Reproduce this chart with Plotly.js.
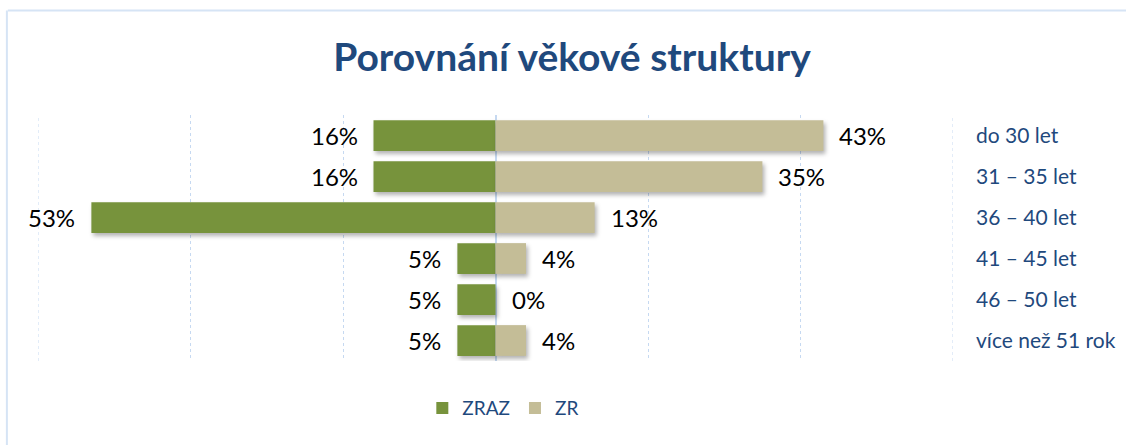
<!DOCTYPE html>
<html>
<head>
<meta charset="utf-8">
<script src="https://cdn.plot.ly/plotly-3.0.1.min.js"></script>
<style>
  body { margin: 0; background: #fff; }
  #chart { width: 1126px; height: 445px; }
  .barlayer .point path { filter: drop-shadow(2px 3px 2px rgba(0,0,0,0.30)); }
</style>
</head>
<body>
<div id="chart"></div>
<script>
const categories = ["do 30 let", "31 – 35 let", "36 – 40 let", "41 – 45 let", "46 – 50 let", "více než 51 rok"];
const zraz = [16, 16, 53, 5, 5, 5];
const zr = [43, 35, 13, 4, 0, 4];
const seriesNames = ["ZRAZ", "ZR"];
const xTicks = [-60, -40, -20, 0, 20, 40, 60];

const green = "#77933C";
const tan = "#C4BD97";
const blue = "#1F497D";
const gridBlue = "#C6D9F1";
const font = "Lato, 'Open Sans', sans-serif";

const traces = [
  {
    type: "bar", orientation: "h", name: seriesNames[0],
    y: categories, x: zraz.map(v => -v),
    marker: { color: green }, width: 0.75, hoverinfo: "skip"
  },
  {
    type: "bar", orientation: "h", name: seriesNames[1],
    y: categories, x: zr,
    marker: { color: tan }, width: 0.75, hoverinfo: "skip"
  }
];

const annotations = [];
categories.forEach((c, i) => {
  annotations.push({
    x: -zraz[i], y: c, xref: "x", yref: "y", text: zraz[i] + "%",
    showarrow: false, xanchor: "right", xshift: -14,
    font: { family: font, size: 24, color: "#000" }
  });
  annotations.push({
    x: zr[i], y: c, xref: "x", yref: "y", text: zr[i] + "%",
    showarrow: false, xanchor: "left", xshift: 14,
    font: { family: font, size: 24, color: "#000" }
  });
});

// edge gridlines (at the first and last tick value, which coincide with the range ends)
const edgeGrid = [xTicks[0], xTicks[xTicks.length - 1]].map(v => ({
  type: "line", xref: "x", yref: "paper", x0: v, x1: v, y0: 0, y1: 1,
  line: { color: gridBlue, width: 1, dash: "dot" }, layer: "below"
}));

const layout = {
  width: 1126, height: 445,
  margin: { l: 38, r: 173, t: 115, b: 84 },
  paper_bgcolor: "#fff", plot_bgcolor: "#fff",
  barmode: "relative",
  font: { family: font },
  title: {
    text: "<b>Porovnání věkové struktury</b>",
    font: { family: font, size: 39, color: blue },
    x: 0.508, xref: "container", xanchor: "center",
    y: 0.872, yref: "container", yanchor: "middle"
  },
  xaxis: {
    range: [-60, 60], tickvals: xTicks, showticklabels: false,
    showgrid: true, gridcolor: gridBlue, griddash: "dot", gridwidth: 1,
    zeroline: true, zerolinecolor: gridBlue, zerolinewidth: 2,
    showline: false, fixedrange: true
  },
  yaxis: {
    type: "category", autorange: "reversed", side: "right",
    showgrid: false, zeroline: false, showline: false, ticks: "",
    ticklabelstandoff: 22,
    tickfont: { family: font, size: 21, color: blue },
    fixedrange: true
  },
  showlegend: true,
  legend: {
    orientation: "h", xref: "container", yref: "container",
    x: 0.447, xanchor: "center", y: 0.083, yanchor: "middle",
    font: { family: font, size: 19, color: blue },
    itemwidth: 30, traceorder: "normal"
  },
  annotations: annotations,
  shapes: edgeGrid.concat([
    { type: "line", xref: "paper", yref: "paper", x0: -0.033, x1: 1.2, y0: 1.425, y1: 1.425,
      line: { color: "#D6E4F5", width: 2 } },
    { type: "line", xref: "paper", yref: "paper", x0: -0.034, x1: -0.034, y0: 1.425, y1: -0.4,
      line: { color: "#D6E4F5", width: 2 } }
  ])
};

Plotly.newPlot("chart", traces, layout, { displayModeBar: false, staticPlot: true });
</script>
</body>
</html>
